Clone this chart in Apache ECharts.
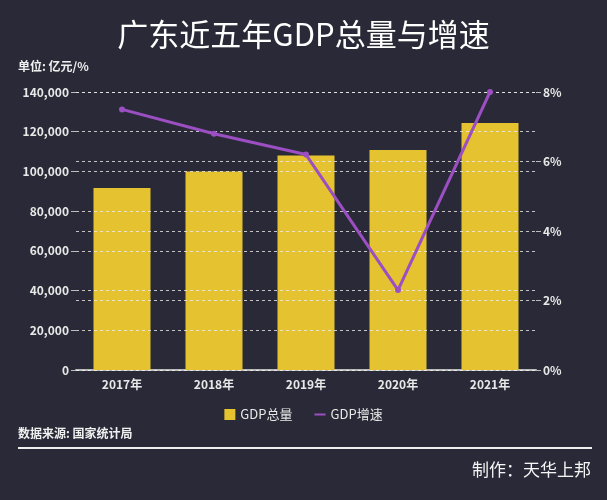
<!DOCTYPE html>
<html><head><meta charset="utf-8">
<script src="https://cdn.jsdelivr.net/npm/echarts@6/dist/echarts.min.js"></script>
<style>html,body{margin:0;padding:0;background:#2a2937;}#c{width:607px;height:500px;}</style>
</head><body><div id="c"></div>
<script>
const categories = ['2017年','2018年','2019年','2020年','2021年'];
const gdpTotal = [91649, 99945, 107987, 110761, 124370];
const gdpGrowth = [7.5, 6.8, 6.2, 2.3, 8.0];
const titleText = '广东近五年GDP总量与增速';
const unitText = '单位: 亿元/%';
const sourceText = '数据来源: 国家统计局';
const authorText = '制作：天华上邦';

const font = '"Noto Sans CJK SC", "Noto Sans", sans-serif';
const chart = echarts.init(document.getElementById('c'), null, {renderer:'canvas'});
const splitStyle = {show:true, lineStyle:{color:'rgba(235,235,235,0.8)', type:[3,3], width:1}};
const lineIcon = 'path://M0,0h0.01v0.01h-0.01z M0,4.6h11v1.8h-11z M10.99,10.99h0.01v0.01h-0.01z';
chart.setOption({
  backgroundColor:'#2a2937',
  animation:false,
  textStyle:{fontFamily:font},
  title:{text:titleText, left:'center', top:14, textStyle:{color:'#ffffff', fontSize:31, fontWeight:'normal', fontFamily:font}},
  graphic:[
    {type:'text', left:18, top:60, style:{text:unitText, fill:'#f0f0f0', font:'bold 12px '+font}},
    {type:'text', left:18, top:427, style:{text:sourceText, fill:'#f0f0f0', font:'bold 12px '+font}},
    {type:'rect', shape:{x:18, y:447, width:574, height:2}, style:{fill:'#f0f0f0'}},
    {type:'text', right:16, top:461, style:{text:authorText, fill:'#f5f5f5', font:'17px '+font}}
  ],
  legend:{bottom:74, left:'center', itemGap:22, itemWidth:11, itemHeight:11,
    textStyle:{color:'#e8e8e8', fontSize:13, fontFamily:font},
    data:[{name:'GDP总量', icon:'rect'},
          {name:'GDP增速', icon:lineIcon}]},
  grid:{left:76, right:71, top:92, bottom:130},
  xAxis:{type:'category', data:categories,
    axisLine:{lineStyle:{color:'#bbbbbb', width:2}}, axisTick:{show:false},
    axisLabel:{color:'#e8e8e8', fontSize:12, fontWeight:'bold', margin:8}},
  yAxis:[
    {type:'value', min:0, max:140000, interval:20000, z:5,
      axisLine:{show:false}, axisTick:{show:true, length:5, lineStyle:{color:'#bbbbbb'}},
      axisLabel:{color:'#e8e8e8', fontSize:12, fontWeight:'bold', margin:7,
        formatter:v=>v.toLocaleString('en-US')},
      splitLine:splitStyle},
    {type:'value', min:0, max:8, interval:2, z:5,
      axisLine:{show:false}, axisTick:{show:true, length:5, lineStyle:{color:'#bbbbbb'}},
      axisLabel:{color:'#e8e8e8', fontSize:12, fontWeight:'bold', margin:7, formatter:'{value}%'},
      splitLine:splitStyle}
  ],
  series:[
    {name:'GDP总量', type:'bar', data:gdpTotal, barWidth:57, z:2,
      itemStyle:{color:'#e5c330'}},
    {name:'GDP增速', type:'line', yAxisIndex:1, data:gdpGrowth, z:8,
      symbol:'circle', symbolSize:6, lineStyle:{color:'#9b4fc2', width:3},
      itemStyle:{color:'#9b4fc2'}}
  ]
});
</script></body></html>
